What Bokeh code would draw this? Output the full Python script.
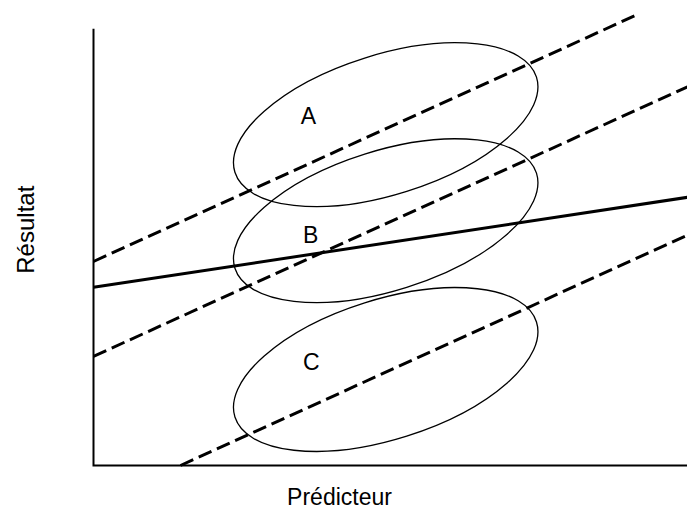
import math
from bokeh.plotting import figure
from bokeh.models import Range1d, ColumnDataSource
from bokeh.core.properties import value
from bokeh.embed import file_html
from bokeh.resources import INLINE

# ---- data (arbitrary units, 1 unit = same length on both axes) ----
group_names = ["A", "B", "C"]
group_cx = [48.7, 48.7, 48.7]
group_cy = [56.8, 40.8, 16.0]
group_w = [52.7, 52.7, 52.7]
group_h = [23.3, 23.3, 23.3]
group_angle_deg = [17.5, 17.5, 17.5]

label_x = [35.8, 36.2, 36.3]
label_y = [58.2, 38.5, 17.2]

# within-group regression lines (dashed)
dash_x0 = [0.0, 0.0, 14.5]
dash_y0 = [34.0, 18.2, 0.0]
dash_x1 = [90.2, 99.0, 99.0]
dash_y1 = [74.95, 63.1, 38.4]

# overall regression line (solid)
solid_x = [0.0, 99.0]
solid_y = [29.7, 44.7]

# axes extents
axis_x = [0.0, 0.0, 99.0]
axis_y = [72.8, 0.0, 0.0]

x_title = "Prédicteur"
y_title = "Résultat"
x_title_pos = (41.0, -5.2)
y_title_pos = (-11.3, 39.3)

p = figure(width=687, height=510, output_backend="svg", toolbar_location=None,
           x_axis_type=None, y_axis_type=None,
           x_range=Range1d(-15.5, 99.0), y_range=Range1d(-7.5, 77.5),
           min_border_left=0, min_border_right=0, min_border_top=0, min_border_bottom=0)
p.outline_line_color = None
p.grid.visible = False
p.background_fill_color = "white"
p.border_fill_color = "white"

# axes lines
p.line(axis_x, axis_y, line_color="black", line_width=2, line_join="miter")

# ellipses
src = ColumnDataSource(dict(x=group_cx, y=group_cy, w=group_w, h=group_h,
                            a=[math.radians(d) for d in group_angle_deg]))
p.ellipse(x="x", y="y", width="w", height="h", angle="a", source=src,
          fill_color=None, line_color="black", line_width=1.3)

# dashed lines
p.segment(x0=dash_x0, y0=dash_y0, x1=dash_x1, y1=dash_y1,
          line_color="black", line_width=3, line_dash="14 6")

# solid line
p.line(solid_x, solid_y, line_color="black", line_width=3)

# group letters
p.text(x=label_x, y=label_y, text=group_names, text_align="center",
       text_baseline="alphabetic", text_font=value("Liberation Sans"),
       text_font_size="23px", text_color="black")

# axis titles
p.text(x=[x_title_pos[0]], y=[x_title_pos[1]], text=[x_title], text_align="center",
       text_baseline="alphabetic", text_font=value("Liberation Sans"),
       text_font_size="23px", text_color="black")
p.text(x=[y_title_pos[0]], y=[y_title_pos[1]], text=[y_title], angle=math.pi / 2,
       text_align="center", text_baseline="alphabetic",
       text_font=value("Liberation Sans"), text_font_size="24px",
       text_color="black")

open("out.html", "w").write(file_html(p, INLINE))
